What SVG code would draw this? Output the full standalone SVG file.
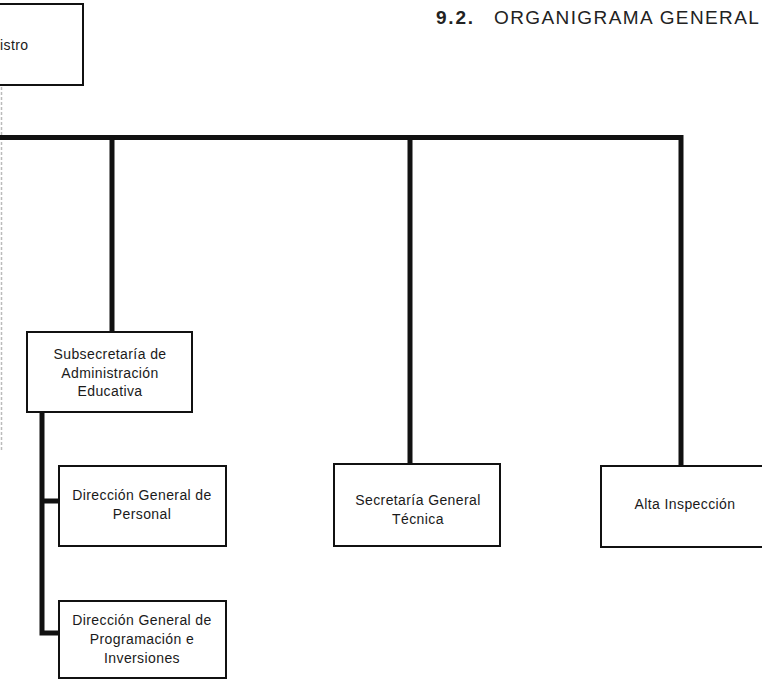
<svg xmlns="http://www.w3.org/2000/svg" width="762" height="680" viewBox="0 0 762 680">
<style>
.box{fill:#fff;stroke:#111;stroke-width:2}
.lbl{font-family:"Liberation Sans",Arial,sans-serif;font-size:14px;letter-spacing:0.4px;fill:#1a1a1a;text-anchor:middle}
.con{fill:none;stroke:#111;stroke-width:5;stroke-linejoin:miter;stroke-linecap:butt}
.title{font-family:"Liberation Sans",Arial,sans-serif;font-size:19px;fill:#222;letter-spacing:1.4px}
</style>
<rect width="762" height="680" fill="#fff"/>
<text class="title" x="436" y="24"><tspan font-weight="bold" letter-spacing="1.8">9.2.</tspan><tspan x="494">ORGANIGRAMA GENERAL</tspan></text>
<g id="connectors">
<line x1="1.5" y1="87" x2="1.5" y2="450" stroke="#bbb" stroke-width="1.5" stroke-dasharray="3 2"/>
<path class="con" d="M0 137.5 H681 V466"/>
<line class="con" x1="112" y1="137.5" x2="112" y2="332"/>
<line class="con" x1="410" y1="137.5" x2="410" y2="464"/>
<path class="con" d="M42 412 V633 H59"/>
<line class="con" x1="42" y1="501" x2="59" y2="501"/>
</g>
<g id="ministro">
<rect class="box" x="-20" y="4" width="103" height="81"/>
<text class="lbl" x="0" y="50" style="text-anchor:start">istro</text>
</g>
<g id="subsecretaria">
<rect class="box" x="27" y="332" width="165" height="80"/>
<text class="lbl" x="110" y="359">Subsecretaría de</text>
<text class="lbl" x="110" y="377.5">Administración</text>
<text class="lbl" x="110" y="396">Educativa</text>
</g>
<g id="dg-personal">
<rect class="box" x="59" y="466" width="167" height="80"/>
<text class="lbl" x="142" y="500">Dirección General de</text>
<text class="lbl" x="142" y="518.5">Personal</text>
</g>
<g id="dg-programacion">
<rect class="box" x="59" y="601" width="167" height="77"/>
<text class="lbl" x="142" y="625">Dirección General de</text>
<text class="lbl" x="142" y="644">Programación e</text>
<text class="lbl" x="142" y="663">Inversiones</text>
</g>
<g id="secretaria">
<rect class="box" x="334" y="464" width="166" height="82"/>
<text class="lbl" x="418" y="505">Secretaría General</text>
<text class="lbl" x="418" y="524">Técnica</text>
</g>
<g id="alta-inspeccion">
<rect class="box" x="601" y="466" width="162" height="81"/>
<text class="lbl" x="685" y="509">Alta Inspección</text>
</g>
</svg>
